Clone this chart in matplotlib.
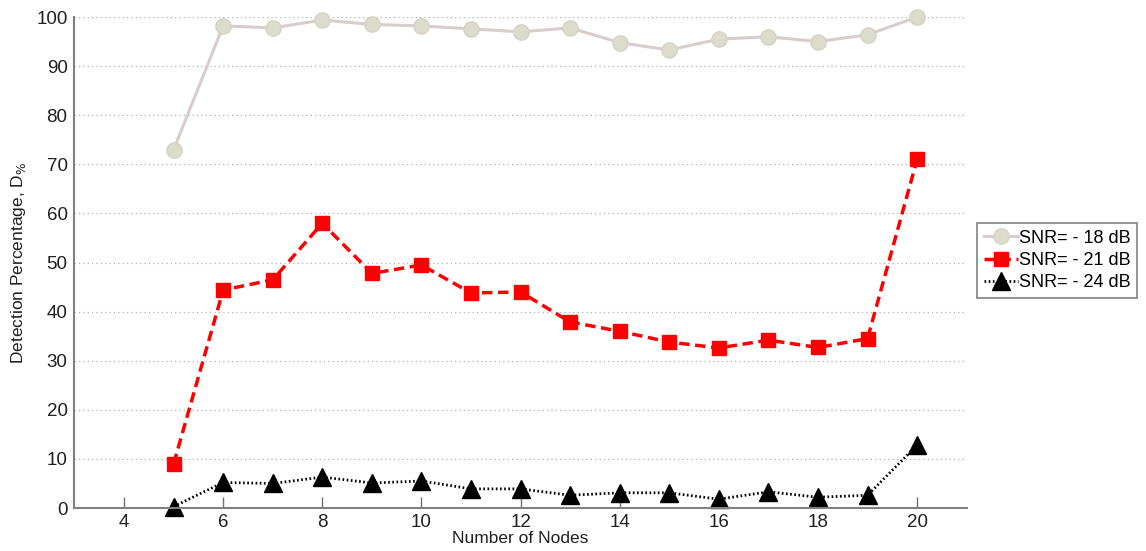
import numpy as np
import matplotlib.pyplot as plt

plt.rcParams['font.family'] = ['Liberation Sans', 'DejaVu Sans']

# Detection results per number of nodes
nodes = [5, 6, 7, 8, 9, 10, 11, 12, 13, 14, 15, 16, 17, 18, 19, 20]
snr_18 = [73.0, 98.2, 97.8, 99.4, 98.5, 98.2, 97.6, 97.0, 97.8, 94.8, 93.3, 95.5, 96.0, 95.0, 96.4, 100.0]
snr_21 = [9.0, 44.4, 46.5, 58.0, 47.8, 49.5, 43.8, 44.0, 37.9, 36.0, 33.8, 32.6, 34.2, 32.7, 34.5, 71.0]
snr_24 = [0.3, 5.2, 5.0, 6.3, 5.1, 5.5, 3.9, 3.9, 2.6, 3.1, 3.1, 1.8, 3.3, 2.2, 2.6, 12.8]
labels = ['SNR= - 18 dB', 'SNR= - 21 dB', 'SNR= - 24 dB']

fig = plt.figure(figsize=(11.46, 5.51), dpi=100)
ax = fig.add_axes([0.065, 0.078, 0.7785, 0.891])

ax.plot(nodes, snr_18, '-o', color='#d9cccc', lw=2.2, ms=11,
        mfc='#dcdccc', mec='#d6d2c6', label=labels[0], clip_on=False)
ax.plot(nodes, snr_21, '--s', color='#ff0000', lw=2.5, ms=10,
        mfc='#ff0000', mec='#ff0000', dashes=(3, 1.6), label=labels[1], clip_on=False)
ax.plot(nodes, snr_24, ':^', color='black', lw=2.0, ms=12.5,
        mfc='black', mec='black', dashes=(0.6, 0.9), label=labels[2], clip_on=False)

ax.set_xlim(3, 21)
ax.set_ylim(0, 100)
ax.set_xticks(np.arange(4, 21, 2))
ax.set_yticks(np.arange(0, 101, 10))
ax.yaxis.grid(True, linestyle=(0, (1, 2.5)), color='#b0b0b0', lw=0.9)
ax.set_axisbelow(True)

for side in ['top', 'right']:
    ax.spines[side].set_visible(False)
for side in ['left', 'bottom']:
    ax.spines[side].set_color('#808080')
    ax.spines[side].set_linewidth(1.5)
ax.tick_params(direction='in', length=8, width=1, color='#707070',
               labelsize=13.5, colors='#202020')
ax.tick_params(axis='y', length=0, pad=5)
ax.tick_params(axis='x', pad=4)

ax.set_xlabel('Number of Nodes', fontsize=12.5, labelpad=0, color='#202020')
ax.set_ylabel('Detection Percentage, D$_{\\%}$', fontsize=12.5, labelpad=6, color='#202020')

leg = ax.legend(loc='upper left', bbox_to_anchor=(1.012, 0.58), fontsize=13,
                frameon=True, fancybox=False, borderpad=0.35, handlelength=1.9,
                handletextpad=0.05, labelspacing=0.3, borderaxespad=0)
leg.get_frame().set_edgecolor('#606060')
leg.get_frame().set_linewidth(1.2)

fig.savefig('out.png', dpi=100)
